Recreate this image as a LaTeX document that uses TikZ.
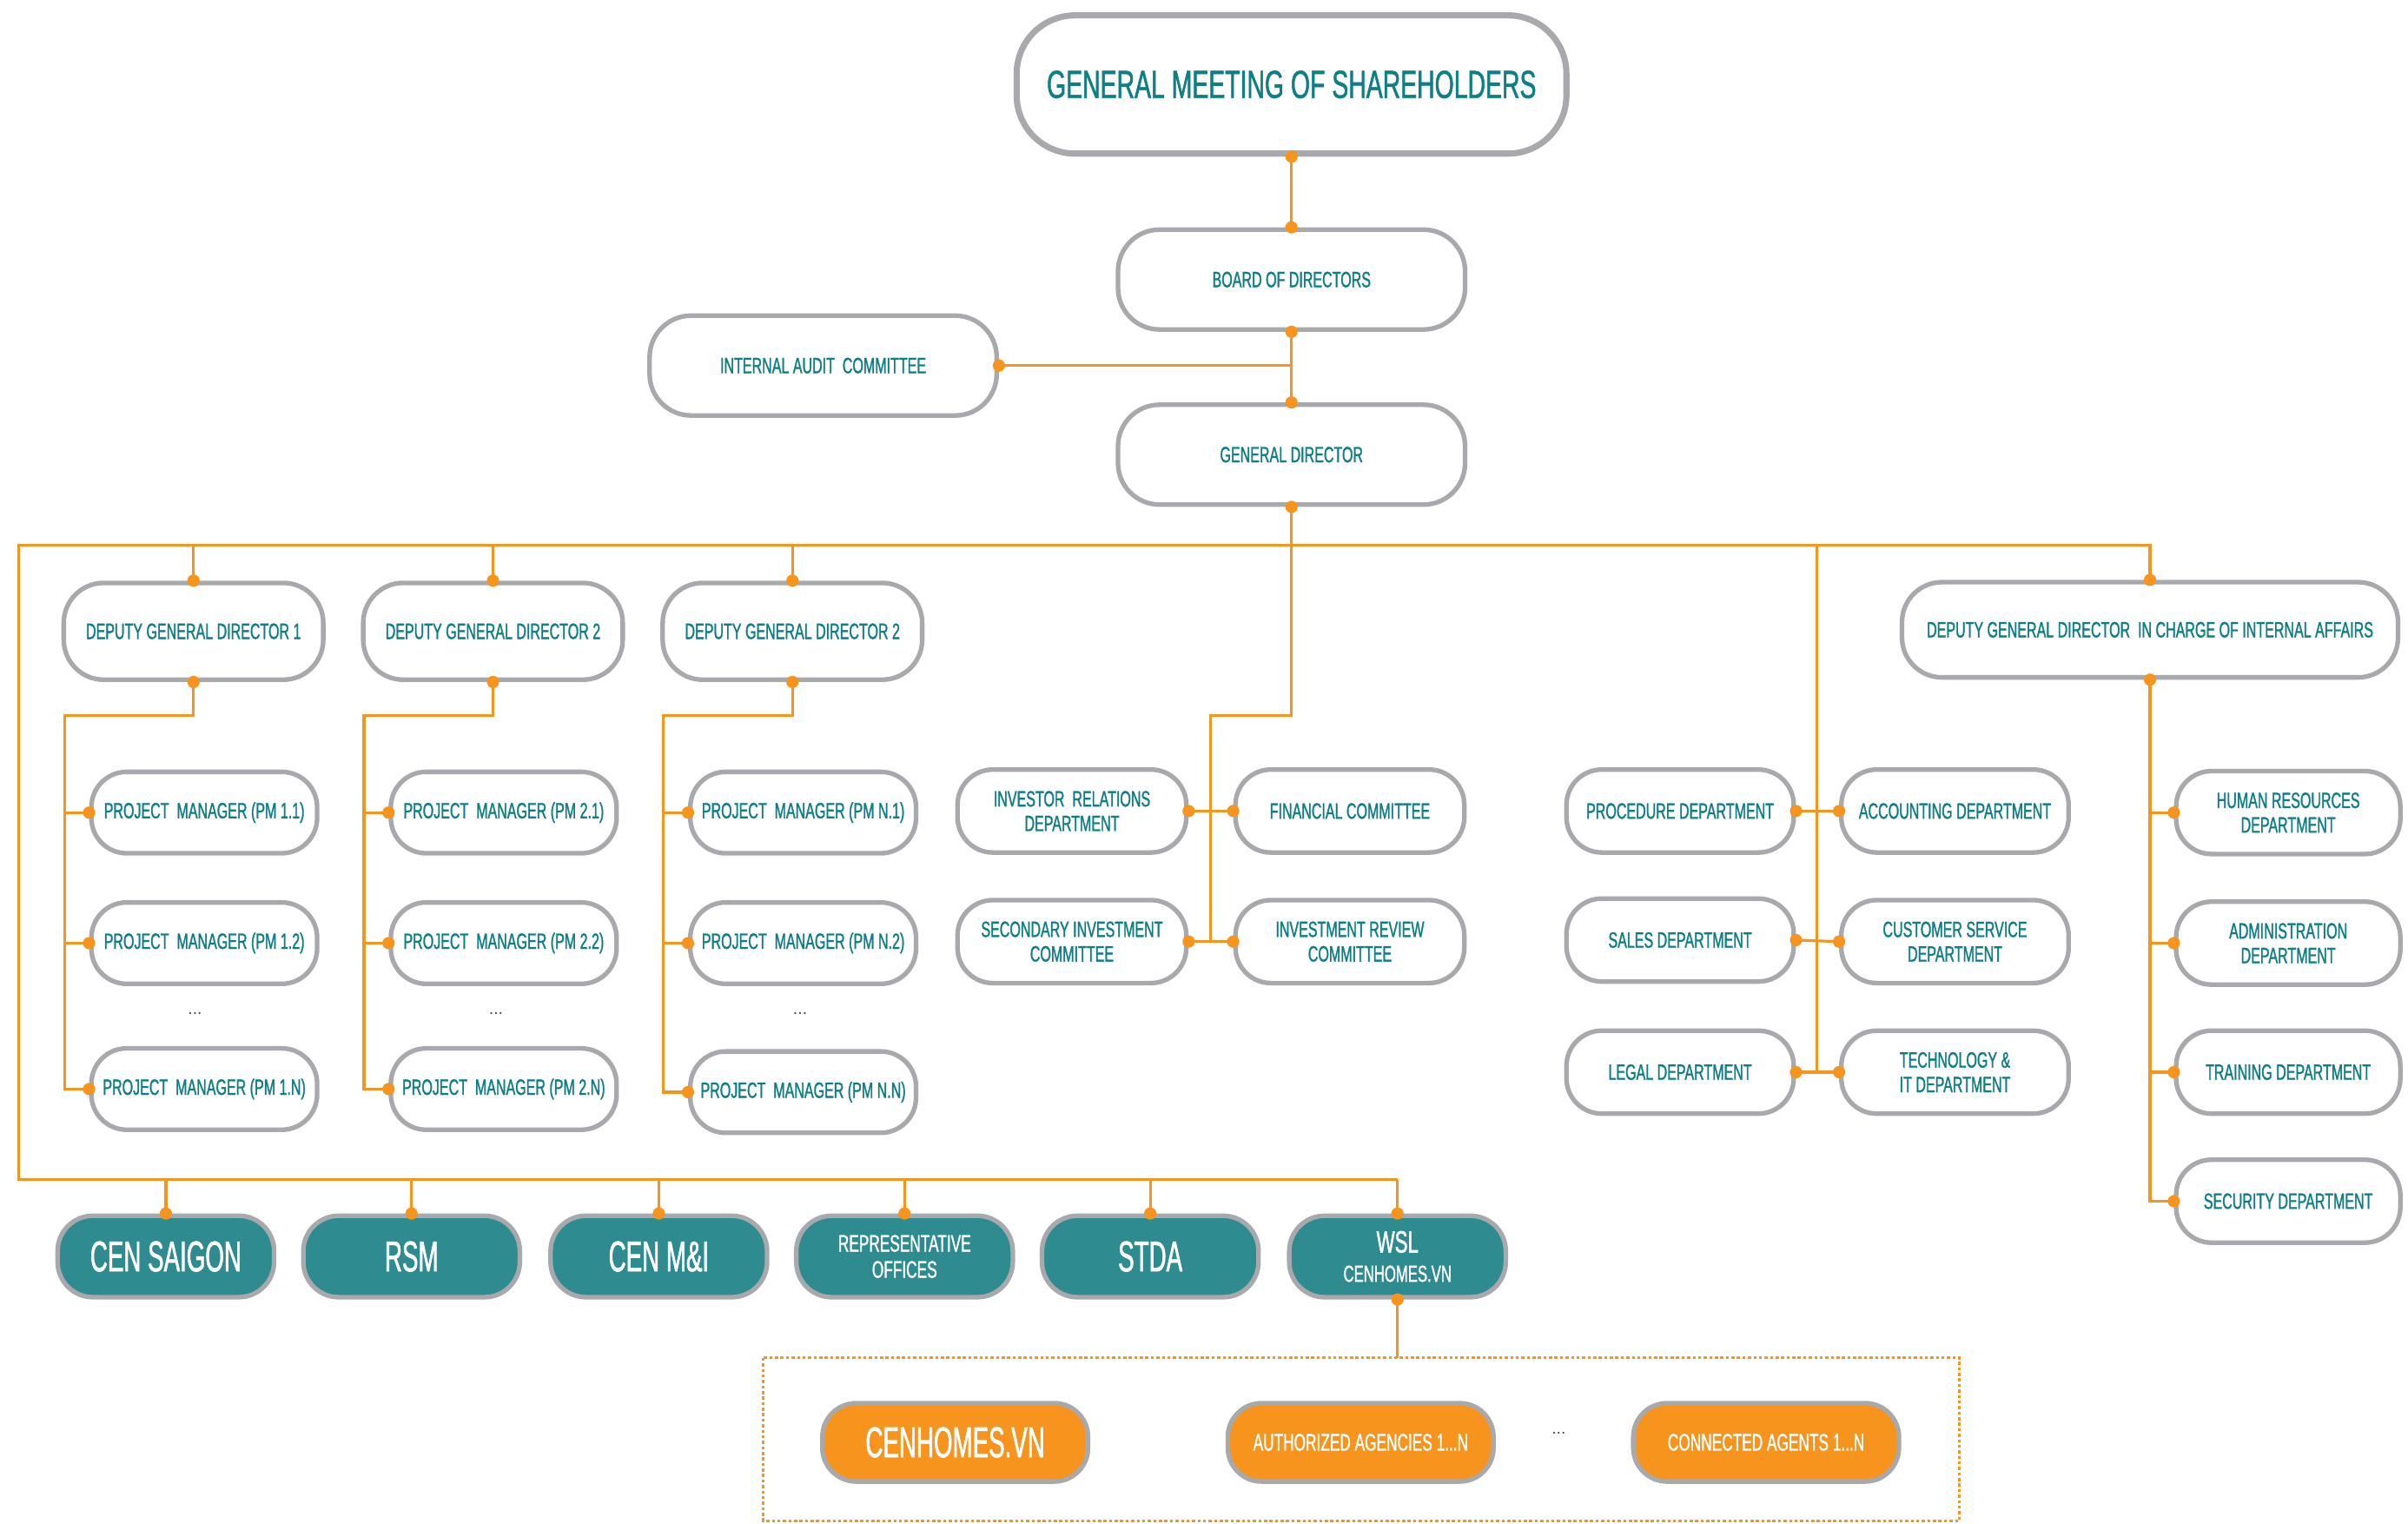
\documentclass[tikz,border=0pt]{standalone}
\usepackage{fontspec}
\setmainfont{Liberation Sans}
\newfontfamily\cnd[FakeStretch=0.63,FakeBold=1.2]{Liberation Sans}
\newfontfamily\cndd[FakeStretch=0.56,FakeBold=1.2]{Liberation Sans}
\definecolor{tealtxt}{HTML}{0F7F87}
\definecolor{tealfill}{HTML}{2E8C90}
\definecolor{orng}{HTML}{F7941D}
\definecolor{bord}{HTML}{A7A9AC}
\begin{document}
\begin{tikzpicture}[x=1pt,y=-1pt,
  conn/.style={draw=orng,line width=1.8pt},
  base/.style={draw=bord,line width=3pt,align=center,inner sep=0pt},
  wbox/.style={base,fill=white,text=tealtxt,font=\cnd\fontsize{14.4}{16}\selectfont},
  bigbox/.style={wbox,line width=4pt,minimum width=358pt,minimum height=90pt,rounded corners=38pt,font=\cnd\fontsize{25.5}{28}\selectfont},
  midbox/.style={wbox,minimum width=226pt,minimum height=65pt,rounded corners=27pt},
  dgdbox/.style={wbox,minimum width=169pt,minimum height=63pt,rounded corners=26pt},
  pmbox/.style={wbox,minimum width=147pt,minimum height=53pt,rounded corners=23pt},
  depbox/.style={wbox,minimum width=148pt,minimum height=54pt,rounded corners=23pt},
  tealbox/.style={base,fill=tealfill,text=white,minimum width=141pt,minimum height=53pt,rounded corners=23pt,font=\cndd\fontsize{28}{30}\selectfont},
  orbox/.style={base,fill=orng,text=white,minimum width=173pt,minimum height=51pt,rounded corners=22pt,font=\cnd\fontsize{15.5}{17}\selectfont},
  ell/.style={text=black!70,font=\fontsize{11}{12}\selectfont}]
\useasboundingbox (0,0) rectangle (1568,992);

% top
\node[bigbox] (gms) at (841,55) {GENERAL MEETING OF SHAREHOLDERS};
\node[midbox] (bod) at (841,182) {BOARD OF DIRECTORS};
\node[midbox] (iac) at (536,238) {INTERNAL AUDIT~~COMMITTEE};
\node[midbox] (gd) at (841,296) {GENERAL DIRECTOR};

% deputies
\node[dgdbox] (dgd1) at (126,411) {DEPUTY GENERAL DIRECTOR 1};
\node[dgdbox] (dgd2) at (321,411) {DEPUTY GENERAL DIRECTOR 2};
\node[dgdbox] (dgd3) at (516,411) {DEPUTY GENERAL DIRECTOR 2};
\node[wbox,minimum width=323pt,minimum height=62pt,rounded corners=26pt] (dgdi) at (1400,410) {DEPUTY GENERAL DIRECTOR~~IN CHARGE OF INTERNAL AFFAIRS};

% project managers
\node[pmbox] (pm11) at (133,529) {PROJECT~~MANAGER (PM 1.1)};
\node[pmbox] (pm12) at (133,614) {PROJECT~~MANAGER (PM 1.2)};
\node[pmbox] (pm1n) at (133,709) {PROJECT~~MANAGER (PM 1.N)};
\node[pmbox] (pm21) at (328,529) {PROJECT~~MANAGER (PM 2.1)};
\node[pmbox] (pm22) at (328,614) {PROJECT~~MANAGER (PM 2.2)};
\node[pmbox] (pm2n) at (328,709) {PROJECT~~MANAGER (PM 2.N)};
\node[pmbox] (pm31) at (523,529) {PROJECT~~MANAGER (PM N.1)};
\node[pmbox] (pm32) at (523,614) {PROJECT~~MANAGER (PM N.2)};
\node[pmbox] (pm3n) at (523,711) {PROJECT~~MANAGER (PM N.N)};
\node[ell] (e1) at (127,660) {...};
\node[ell] (e2) at (323,660) {...};
\node[ell] (e3) at (521,660) {...};

% investor group
\node[depbox,minimum width=149pt] (ir) at (698,528) {INVESTOR~~RELATIONS\\DEPARTMENT};
\node[depbox,minimum width=149pt] (fc) at (879,528) {FINANCIAL COMMITTEE};
\node[depbox,minimum width=149pt] (sic) at (698,613) {SECONDARY INVESTMENT\\COMMITTEE};
\node[depbox,minimum width=149pt] (irc) at (879,613) {INVESTMENT REVIEW\\COMMITTEE};

% middle right group
\node[depbox] (pd) at (1094,528) {PROCEDURE DEPARTMENT};
\node[depbox] (acc) at (1273,528) {ACCOUNTING DEPARTMENT};
\node[depbox] (sd) at (1094,612) {SALES DEPARTMENT};
\node[depbox] (csd) at (1273,613) {CUSTOMER SERVICE\\DEPARTMENT};
\node[depbox] (ld) at (1094,698) {LEGAL DEPARTMENT};
\node[depbox] (tit) at (1273,698) {TECHNOLOGY \&\\IT DEPARTMENT};

% right group
\node[depbox,minimum width=146pt] (hr) at (1490,529) {HUMAN RESOURCES\\DEPARTMENT};
\node[depbox,minimum width=146pt] (adm) at (1490,614) {ADMINISTRATION\\DEPARTMENT};
\node[depbox,minimum width=146pt] (trn) at (1490,698) {TRAINING DEPARTMENT};
\node[depbox,minimum width=146pt] (sec) at (1490,782) {SECURITY DEPARTMENT};

% companies
\node[tealbox] (cs) at (108,818) {CEN SAIGON};
\node[tealbox] (rsm) at (268,818) {RSM};
\node[tealbox] (cmi) at (429,818) {CEN M\&I};
\node[tealbox,font=\cnd\fontsize{15.5}{17}\selectfont] (rep) at (589,818) {REPRESENTATIVE\\OFFICES};
\node[tealbox] (stda) at (749,818) {STDA};
\node[tealbox,font=\cnd\fontsize{20}{21}\selectfont] (wsl) at (910,818) {WSL\\[-2pt]{\fontsize{15}{16}\selectfont CENHOMES.VN}};

% agents
\node[orbox,font=\cndd\fontsize{28}{30}\selectfont] (ch) at (622,939) {CENHOMES.VN};
\node[orbox] (aa) at (886,939) {AUTHORIZED AGENCIES 1...N};
\node[orbox] (ca) at (1150,939) {CONNECTED AGENTS 1...N};
\node[ell] (e4) at (1015,933) {...};
\coordinate (dtl) at (497,884);
\coordinate (dbr) at (1276,990);
\draw[orng,line width=1.5pt,dash pattern=on 2pt off 1.6pt] (dtl) rectangle (dbr);

% connectors
\coordinate (tl) at (12,355);
\coordinate (bl) at (12,768);
\coordinate (br) at (910,768);
\draw[conn] (gms.south) -- (bod.north);
\draw[conn] (bod.south) -- (gd.north);
\draw[conn] (iac.east) -- (iac.east -| bod.south);
\draw[conn] (br) -- (bl) -- (tl) -- (tl -| dgdi.north) -- (dgdi.north);
\foreach \n in {dgd1,dgd2,dgd3} \draw[conn] (\n.north) -- (\n.north |- tl);
\foreach \n in {cs,rsm,cmi,rep,stda,wsl} \draw[conn] (\n.north) -- (\n.north |- bl);
\draw[conn] (wsl.south) -- (wsl.south |- dtl);

% project manager trees
\foreach \d/\x/\a/\b/\c in {dgd1/42/pm11/pm12/pm1n, dgd2/237/pm21/pm22/pm2n, dgd3/432/pm31/pm32/pm3n} {
  \draw[conn] (\d.south) -- ++(0,22) -| (\x,0 |- \c.west) -- (\c.west);
  \draw[conn] (\x,0 |- \a.west) -- (\a.west);
  \draw[conn] (\x,0 |- \b.west) -- (\b.west);
}

% investor group
\coordinate (gv) at (788,466);
\draw[conn] (gd.south) -- (gd.south |- gv) -- (gv) -- (gv |- irc.west);
\draw[conn] (ir.east) -- (fc.west);
\draw[conn] (sic.east) -- (irc.west);

% middle right group
\coordinate (mv) at (1183,355);
\draw[conn] (mv) -- (mv |- tit.west);
\draw[conn] (pd.east) -- (acc.west);
\draw[conn] (sd.east) -- (csd.west);
\draw[conn] (ld.east) -- (tit.west);

% right group
\draw[conn] (dgdi.south) -- (dgdi.south |- sec.west) -- (sec.west);
\foreach \n in {hr,adm,trn} \draw[conn] (dgdi.south |- \n.west) -- (\n.west);

% junction dots
\foreach \a in {gms.south,bod.north,bod.south,gd.north,gd.south,iac.east,
  dgd1.north,dgd2.north,dgd3.north,dgd1.south,dgd2.south,dgd3.south,dgdi.north,dgdi.south,
  pm11.west,pm12.west,pm1n.west,pm21.west,pm22.west,pm2n.west,pm31.west,pm32.west,pm3n.west,
  ir.east,fc.west,sic.east,irc.west,pd.east,acc.west,sd.east,csd.west,ld.east,tit.west,
  hr.west,adm.west,trn.west,sec.west,cs.north,rsm.north,cmi.north,rep.north,stda.north,wsl.north,wsl.south}
  \fill[orng] (\a) circle (4pt);
\end{tikzpicture}
\end{document}
